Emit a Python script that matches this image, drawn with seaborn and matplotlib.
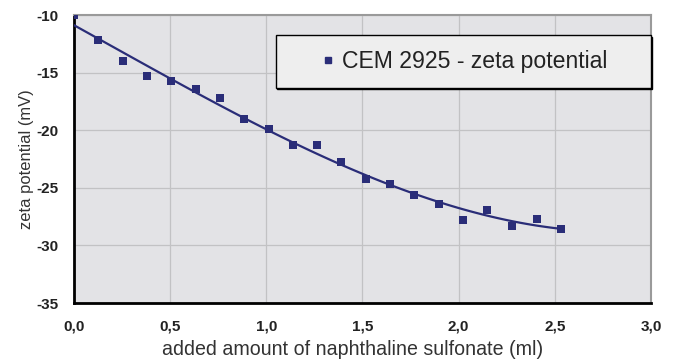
import matplotlib
matplotlib.use("Agg")
import matplotlib.pyplot as plt
import seaborn as sns
import pandas as pd
from matplotlib.lines import Line2D

# data
added_ml = [0.0, 0.126, 0.253, 0.38, 0.506, 0.633, 0.76, 0.886, 1.012, 1.14, 1.265,
            1.39, 1.52, 1.645, 1.77, 1.9, 2.025, 2.15, 2.28, 2.405, 2.53]
zeta_mv = [-10.0, -12.2, -14.0, -15.3, -15.7, -16.4, -17.2, -19.0, -19.9, -21.3, -21.3,
           -22.8, -24.2, -24.7, -25.6, -26.4, -27.8, -26.9, -28.3, -27.7, -28.6]
x_ticks = [0.0, 0.5, 1.0, 1.5, 2.0, 2.5, 3.0]
x_tick_labels = ["0,0", "0,5", "1,0", "1,5", "2,0", "2,5", "3,0"]
y_ticks = [-35, -30, -25, -20, -15, -10]
y_tick_labels = ["-35", "-30", "-25", "-20", "-15", "-10"]
series_label = "CEM 2925 - zeta potential"

df = pd.DataFrame({"x": added_ml, "y": zeta_mv})

sns.set_style("white")
plt.rcParams["font.family"] = ["Liberation Sans", "DejaVu Sans"]

navy = "#2a2d78"
fig = plt.figure(figsize=(6.75, 3.6), dpi=100)
ax = fig.add_axes([0.1096, 0.1583, 0.8548, 0.8])
ax.set_facecolor("#e3e3e6")

sns.regplot(data=df, x="x", y="y", order=3, ci=None, scatter=False, ax=ax,
            line_kws=dict(color=navy, lw=1.6, zorder=3))
sns.scatterplot(data=df, x="x", y="y", marker="s", s=32, color=navy,
                edgecolor=navy, linewidth=0, ax=ax, zorder=4)

ax.set_xlim(0, 3.0)
ax.set_ylim(-35, -10)
ax.set_xticks(x_ticks)
ax.set_xticklabels(x_tick_labels)
ax.set_yticks(y_ticks)
ax.set_yticklabels(y_tick_labels)
ax.grid(True, color="#c2c2c4", lw=0.9)
ax.set_axisbelow(True)

ax.tick_params(axis="both", direction="in", length=4, width=1.8, color="black",
               labelsize=11, labelcolor="#222222")
ax.tick_params(axis="x", pad=12)
ax.tick_params(axis="y", pad=11)
for lab in ax.get_xticklabels() + ax.get_yticklabels():
    lab.set_fontweight("bold")

for side in ["left", "bottom"]:
    ax.spines[side].set_color("black")
    ax.spines[side].set_linewidth(2.0)
for side in ["top", "right"]:
    ax.spines[side].set_color("#9a9a9a")
    ax.spines[side].set_linewidth(1.5)

ax.set_xlabel("added amount of naphthaline sulfonate (ml)", fontsize=14.1,
              color="#333333")
ax.xaxis.set_label_coords(0.482, -0.13)
ax.set_ylabel("zeta potential (mV)", fontsize=11.9, color="#333333", labelpad=2)

handle = Line2D([], [], marker="s", ls="none", color=navy, markersize=4.5)
leg = ax.legend([handle], [series_label], loc="upper left",
                bbox_to_anchor=(0.35, 0.75, 0.65, 0.18), mode="expand",
                fontsize=16.6, frameon=True, fancybox=False,
                borderpad=0.64, handlelength=3.24, handletextpad=-1.01,
                borderaxespad=0,
                shadow={"ox": 1.0, "oy": -1.0, "color": "black", "alpha": 1})
leg.get_frame().set_facecolor("#eeeeee")
leg.get_frame().set_alpha(1)
leg.get_frame().set_edgecolor("black")
leg.get_frame().set_linewidth(1.0)
for t in leg.get_texts():
    t.set_color("#222222")

fig.savefig("out.png", dpi=100, facecolor="white")
